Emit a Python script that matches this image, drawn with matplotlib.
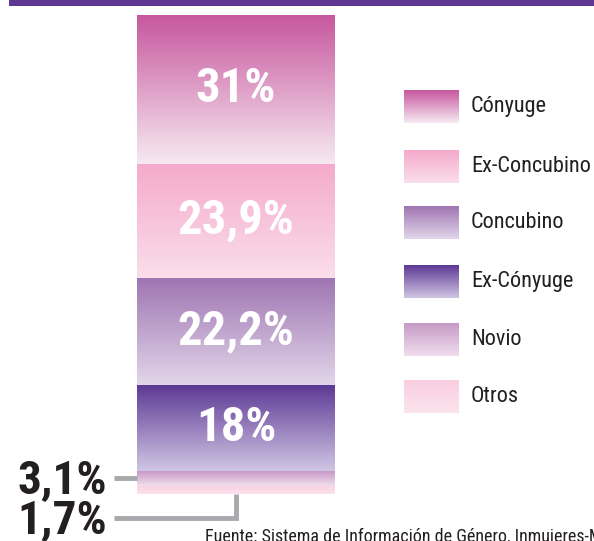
import numpy as np
import matplotlib
matplotlib.use('Agg')
import matplotlib.pyplot as plt
from matplotlib import font_manager as fm
from matplotlib.colors import to_rgb
from matplotlib.patches import Rectangle

# data (top of the bar first)
categories = ['Cónyuge', 'Ex-Concubino', 'Concubino', 'Ex-Cónyuge', 'Novio', 'Otros']
values = [31.0, 23.9, 22.2, 18.0, 3.1, 1.7]
labels = ['31%', '23,9%', '22,2%', '18%', '3,1%', '1,7%']
top_colors = ['#C7579E', '#F5AACC', '#9F75B2', '#5C3894', '#C799C5', '#F9CEE0']
bottom_colors = ['#F7EAF2', '#FADEEA', '#E2D6EA', '#D1C6E4', '#F0DEEE', '#FCE4EE']
source = 'Fuente: Sistema de Información de Género, Inmujeres-México'

# pick a narrow font if one is installed
names = {f.name for f in fm.fontManager.ttflist}
narrow = 'DejaVu Sans'
for cand in ['Liberation Sans Narrow', 'Roboto Condensed', 'Open Sans Condensed',
             'DejaVu Sans Condensed']:
    if cand in names:
        narrow = cand
        break
fam = [narrow, 'DejaVu Sans']

W, H = 594, 541
fig = plt.figure(figsize=(W / 100, H / 100), dpi=100)


def gradient(c_top, c_bot, n=256):
    a = np.array(to_rgb(c_top))
    b = np.array(to_rgb(c_bot))
    t = np.linspace(0, 1, n)[:, None]
    return (a * (1 - t) + b * t)[:, None, :]


# bar axes (pixel box of the bar in the reference)
bx0, bx1, by0, by1 = 137, 335, 15, 494
ax = fig.add_axes([bx0 / W, (H - by1) / H, (bx1 - bx0) / W, (by1 - by0) / H])
total = sum(values)
bottoms = np.cumsum(values[::-1])[::-1] - np.array(values)

for v, b, ct, cb in zip(values, bottoms, top_colors, bottom_colors):
    bar = ax.bar(0, v, bottom=b, width=1, color='none', linewidth=0)[0]
    im = ax.imshow(gradient(ct, cb), extent=[-0.5, 0.5, b, b + v],
                   aspect='auto', interpolation='bilinear')
    im.set_clip_path(bar)
ax.set_xlim(-0.5, 0.5)
ax.set_ylim(0, total)
ax.axis('off')

for v, b, lab in zip(values[:4], bottoms[:4], labels[:4]):
    ax.text(0, b + v / 2, lab, ha='center', va='center', color='white',
            fontsize=35, fontweight='bold', family=fam)

# overlay in pixel coordinates (y from top)
ov = fig.add_axes([0, 0, 1, 1])
ov.set_facecolor('none')


def ypix(y):
    return H - ax.transData.transform((0, y))[1]


# purple band at the top
ov.add_patch(Rectangle((9, 0), W - 9, 6, color='#5E3795', linewidth=0))

# small segment labels with leader lines
gray = '#A7A9AC'
y_novio = ypix(bottoms[4] + values[4] / 2)
ov.plot([114, bx0], [y_novio, y_novio], color=gray, lw=3.5, solid_capstyle='butt')
ov.text(107, y_novio + 2, labels[4], ha='right', va='center', color='#231F20',
        fontsize=34, fontweight='bold', family=fam)

xc = (bx0 + bx1) / 2
y_low = 518
ov.plot([114, xc, xc], [y_low, y_low, by1], color=gray, lw=3.5,
        solid_joinstyle='miter', solid_capstyle='butt')
ov.text(107, y_low + 2, labels[5], ha='right', va='center', color='#231F20',
        fontsize=34, fontweight='bold', family=fam)

# legend
leg_y = [90, 150, 206, 265, 323, 380]
for cat, y0, ct, cb in zip(categories, leg_y, top_colors, bottom_colors):
    ov.imshow(gradient(ct, cb), extent=[404, 459, y0 + 33, y0],
              aspect='auto', interpolation='bilinear')
    ov.text(471, y0 + 16.5, cat, ha='left', va='center', color='#231F20',
            fontsize=16, family=fam)

ov.text(205, H + 1, source, ha='left', va='baseline', color='#231F20',
        fontsize=13, family=fam)

ov.set_xlim(0, W)
ov.set_ylim(H, 0)
ov.axis('off')

fig.savefig('out.png', dpi=100)
